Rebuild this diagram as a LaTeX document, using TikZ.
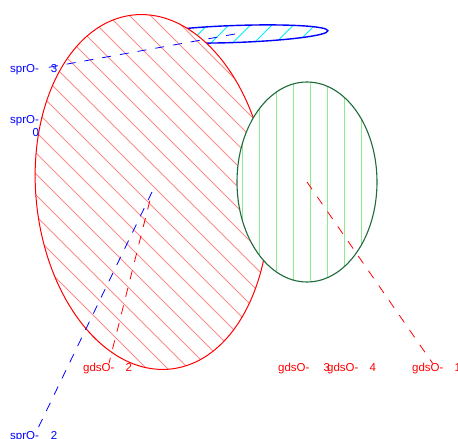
\documentclass[tikz,border=0pt]{standalone}
\usepackage{fontspec}
\setmainfont{Liberation Sans}
\usepackage{tikz}
\definecolor{sprc}{HTML}{0000FF}
\definecolor{gdsc}{HTML}{FF0000}
\definecolor{grnedge}{HTML}{1E6B3C}
\definecolor{grnhatch}{HTML}{8CEB8C}
\definecolor{redhatch}{HTML}{FF8C8C}
\definecolor{cyanhatch}{HTML}{00F0FF}
\tikzset{
  hatch/.style={line width=0.9pt},
  lbl/.style={font=\fontsize{11.5}{13}\selectfont,inner sep=0pt,align=right,anchor=west},
  sprlbl/.style={lbl,text=sprc},
  gdslbl/.style={lbl,text=gdsc},
  sprln/.style={sprc,line width=0.8pt,dash pattern=on 9pt off 9pt},
  gdsln/.style={gdsc,line width=0.8pt,dash pattern=on 9pt off 9pt}
}

\begin{document}
\begin{tikzpicture}[x=1pt,y=-1pt]
\useasboundingbox (0,0) rectangle (458,439);
\coordinate (ctrblue) at (235,34);
\coordinate (ctrred) at (152,192);
\coordinate (ctrgreen) at (307,182);
\begin{scope}
\clip[rotate around={2:(ctrblue)}] (ctrblue) ellipse [x radius=93,y radius=8.5];
\fill[white] (0,0) rectangle (458,439);
\foreach \c in {168,189.5,...,362} \draw[hatch,cyanhatch] (\c-15,15) -- (\c-55,55);
\end{scope}
\draw[sprc,line width=1.4pt,rotate around={2:(ctrblue)}] (ctrblue) ellipse [x radius=93,y radius=8.5];
\begin{scope}
\clip[rotate around={6:(ctrred)}] (ctrred) ellipse [x radius=116,y radius=178];
\fill[white] (0,0) rectangle (458,439);
\foreach \c in {-348,-327,...,261} \draw[hatch,redhatch] (\c+10,10) -- (\c+380,380);
\end{scope}
\draw[gdsc,line width=1pt,rotate around={6:(ctrred)}] (ctrred) ellipse [x radius=116,y radius=178];
\begin{scope}
\clip (ctrgreen) ellipse [x radius=70,y radius=100];
\fill[white] (0,0) rectangle (458,439);
\foreach \x in {242.8,259.7,...,362} \draw[hatch,grnhatch] (\x,80) -- (\x,285);
\end{scope}
\draw[grnedge,line width=1.1pt] (ctrgreen) ellipse [x radius=70,y radius=100];
\node[sprlbl] (spr3) at (10,70) {sprO-\hspace{12pt}3};
\node[sprlbl] (spr0) at (10,126) {sprO-\\0};
\node[sprlbl] (spr2) at (10,437) {sprO-\hspace{12pt}2};
\node[gdslbl] (gds2) at (83,369) {gdsO-\hspace{11pt}2};
\node[gdslbl] (gds3) at (278,369) {gdsO-\hspace{14pt}3};
\node[gdslbl] (gds4) at (327,369) {gdsO-\hspace{11pt}4};
\node[gdslbl] (gds1) at (412,369) {gdsO-\hspace{11pt}1};
\draw[sprln,shorten >=14pt] (ctrblue) -- (spr3.center);
\draw[sprln] (ctrred) -- (spr2);
\draw[gdsln,dash phase=9pt] (ctrred) -- (gds2);
\draw[gdsln] (ctrgreen) -- (gds1);
\end{tikzpicture}
\end{document}
